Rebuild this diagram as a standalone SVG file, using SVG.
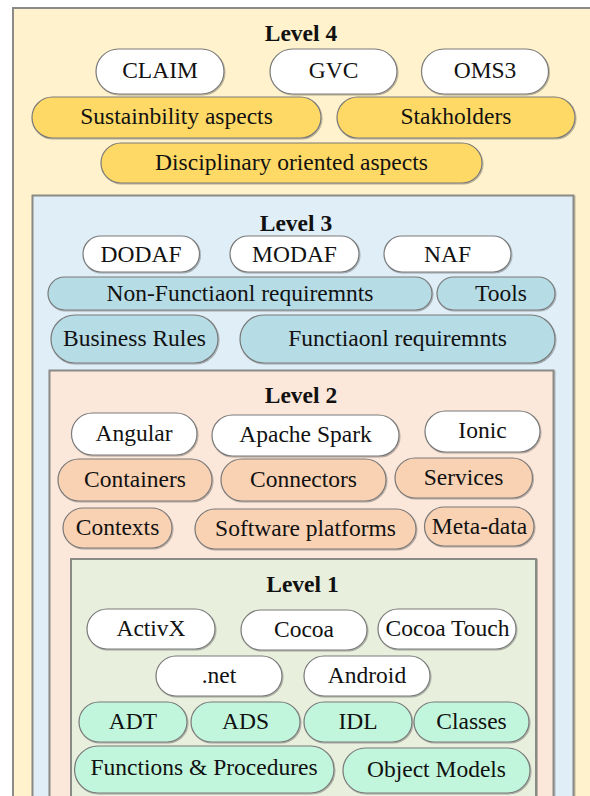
<svg xmlns="http://www.w3.org/2000/svg" width="590" height="796" viewBox="0 0 590 796">
  <defs>
    <filter id="soft" x="-5%" y="-5%" width="110%" height="115%">
      <feDropShadow dx="0.8" dy="1" stdDeviation="0.6" flood-color="#000" flood-opacity="0.3"/>
    </filter>
  </defs>
  <style>
    .lbl { font-family: 'Liberation Serif', 'Times New Roman', 'DejaVu Serif', serif; font-size: 23.5px; fill: #111; text-anchor: middle; }
    .title { font-weight: bold; }
    .box { stroke: #8a8a86; stroke-width: 2; filter: url(#soft); }
    .l4 { fill: #FFF2CC; }
    .l3 { fill: #DFEEF7; }
    .l2 { fill: #FCE8DA; }
    .l1 { fill: #E8EFDD; }
    .pill { stroke: #7a7a7a; stroke-width: 1.2; filter: url(#soft); }
    .white { fill: #FFFFFF; }
    .yellow { fill: #FFD966; }
    .blue { fill: #B6DCE6; }
    .peach { fill: #F9D1B3; }
    .mint { fill: #C1F6DC; }
  </style>

  <!-- Level containers, nested -->
  <g id="level4">
    <rect class="box l4" x="13" y="8" width="600" height="820"/>
    <text class="lbl title" x="301" y="40.5">Level 4</text>
  </g>
  <g id="level3">
    <rect class="box l3" x="32.5" y="195.5" width="541" height="640"/>
    <text class="lbl title" x="296" y="231">Level 3</text>
  </g>
  <g id="level2">
    <rect class="box l2" x="49.5" y="370.5" width="504" height="460"/>
    <text class="lbl title" x="301" y="403">Level 2</text>
  </g>
  <g id="level1">
    <rect class="box l1" x="71" y="559" width="465" height="260"/>
    <text class="lbl title" x="302.5" y="592">Level 1</text>
  </g>

  <!-- Level 4 items -->
  <g id="claim"><rect class="pill white" x="96" y="49" width="128" height="45" rx="22.5"/><text class="lbl" x="160" y="78">CLAIM</text></g>
  <g id="gvc"><rect class="pill white" x="270" y="49" width="127" height="45" rx="22.5"/><text class="lbl" x="333.5" y="78">GVC</text></g>
  <g id="oms3"><rect class="pill white" x="421.5" y="49" width="127" height="45" rx="22.5"/><text class="lbl" x="485" y="78">OMS3</text></g>
  <g id="sustainability"><rect class="pill yellow" x="32" y="97" width="289" height="41" rx="20.5"/><text class="lbl" x="176.5" y="124">Sustainbility aspects</text></g>
  <g id="stakeholders"><rect class="pill yellow" x="337" y="97" width="238" height="41" rx="20.5"/><text class="lbl" x="456" y="124">Stakholders</text></g>
  <g id="disciplinary"><rect class="pill yellow" x="101" y="143" width="381" height="40" rx="20"/><text class="lbl" x="291.5" y="170">Disciplinary oriented aspects</text></g>

  <!-- Level 3 items -->
  <g id="dodaf"><rect class="pill white" x="83" y="236" width="116.5" height="36" rx="18"/><text class="lbl" x="141" y="262">DODAF</text></g>
  <g id="modaf"><rect class="pill white" x="230" y="236" width="129" height="36" rx="18"/><text class="lbl" x="294.5" y="262">MODAF</text></g>
  <g id="naf"><rect class="pill white" x="384" y="236" width="127" height="36" rx="18"/><text class="lbl" x="447.5" y="262">NAF</text></g>
  <g id="nonfunctional"><rect class="pill blue" x="48" y="277" width="384" height="33" rx="16.5"/><text class="lbl" x="240" y="301">Non-Functiaonl requiremnts</text></g>
  <g id="tools"><rect class="pill blue" x="437" y="277" width="118" height="33" rx="16.5"/><text class="lbl" x="501" y="301">Tools</text></g>
  <g id="businessrules"><rect class="pill blue" x="51" y="315" width="167" height="48" rx="24"/><text class="lbl" x="134.5" y="346">Business Rules</text></g>
  <g id="functional"><rect class="pill blue" x="240" y="315" width="315" height="48" rx="24"/><text class="lbl" x="397.5" y="346">Functiaonl requiremnts</text></g>

  <!-- Level 2 items -->
  <g id="angular"><rect class="pill white" x="71.5" y="413" width="125.5" height="42" rx="21"/><text class="lbl" x="134" y="441">Angular</text></g>
  <g id="apachespark"><rect class="pill white" x="212" y="415" width="187" height="41" rx="20.5"/><text class="lbl" x="305.5" y="442">Apache Spark</text></g>
  <g id="ionic"><rect class="pill white" x="425" y="411" width="115" height="41" rx="20.5"/><text class="lbl" x="482.5" y="438">Ionic</text></g>
  <g id="containers"><rect class="pill peach" x="58" y="459" width="154" height="42" rx="21"/><text class="lbl" x="135" y="487">Containers</text></g>
  <g id="connectors"><rect class="pill peach" x="221" y="459" width="165" height="42" rx="21"/><text class="lbl" x="303.5" y="487">Connectors</text></g>
  <g id="services"><rect class="pill peach" x="395" y="458" width="137.5" height="40" rx="20"/><text class="lbl" x="463.5" y="485">Services</text></g>
  <g id="contexts"><rect class="pill peach" x="63" y="508" width="109" height="40" rx="20"/><text class="lbl" x="117.5" y="535">Contexts</text></g>
  <g id="softwareplatforms"><rect class="pill peach" x="195" y="509" width="221" height="40" rx="20"/><text class="lbl" x="305.5" y="536">Software platforms</text></g>
  <g id="metadata"><rect class="pill peach" x="424.5" y="507" width="109.5" height="39" rx="19.5"/><text class="lbl" x="479.5" y="534">Meta-data</text></g>

  <!-- Level 1 items -->
  <g id="activx"><rect class="pill white" x="87" y="609" width="128" height="40" rx="20"/><text class="lbl" x="151" y="636">ActivX</text></g>
  <g id="cocoa"><rect class="pill white" x="241" y="610" width="126" height="40" rx="20"/><text class="lbl" x="304" y="637">Cocoa</text></g>
  <g id="cocoatouch"><rect class="pill white" x="378" y="609" width="138" height="40" rx="20"/><text class="lbl" x="447.5" y="636">Cocoa Touch</text></g>
  <g id="dotnet"><rect class="pill white" x="156" y="656" width="126" height="40" rx="20"/><text class="lbl" x="219" y="683">.net</text></g>
  <g id="android"><rect class="pill white" x="304" y="656" width="126" height="40" rx="20"/><text class="lbl" x="367" y="683">Android</text></g>
  <g id="adt"><rect class="pill mint" x="79" y="702" width="108" height="40" rx="20"/><text class="lbl" x="133" y="729">ADT</text></g>
  <g id="ads"><rect class="pill mint" x="191" y="702" width="109" height="40" rx="20"/><text class="lbl" x="245.5" y="729">ADS</text></g>
  <g id="idl"><rect class="pill mint" x="304" y="702" width="108" height="40" rx="20"/><text class="lbl" x="358" y="729">IDL</text></g>
  <g id="classes"><rect class="pill mint" x="414" y="702" width="115" height="40" rx="20"/><text class="lbl" x="471.5" y="729">Classes</text></g>
  <g id="functions"><rect class="pill mint" x="74.5" y="746" width="259.5" height="47" rx="23.5"/><text class="lbl" x="204" y="775">Functions &amp; Procedures</text></g>
  <g id="objectmodels"><rect class="pill mint" x="343" y="748" width="187" height="45" rx="22.5"/><text class="lbl" x="436.5" y="777">Object Models</text></g>
</svg>
